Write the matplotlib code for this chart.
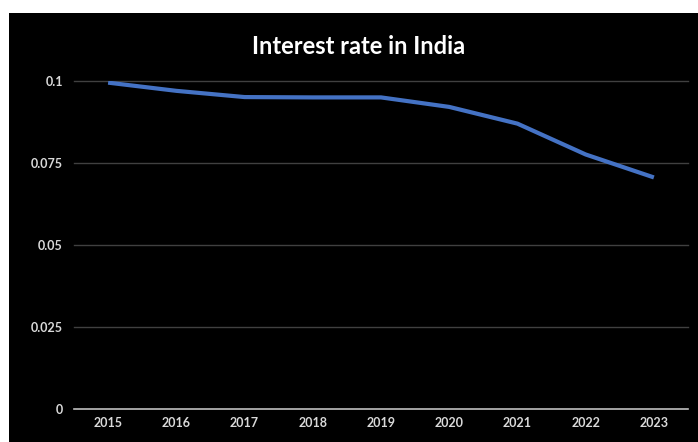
import matplotlib
matplotlib.use("Agg")
import matplotlib.pyplot as plt
from matplotlib.patches import Rectangle

years = ["2015", "2016", "2017", "2018", "2019", "2020", "2021", "2022", "2023"]
rates = [0.0995, 0.0970, 0.0951, 0.0950, 0.0950, 0.0921, 0.0870, 0.0776, 0.0706]
yticks = [0, 0.025, 0.05, 0.075, 0.1]
ytick_labels = ["0", "0.025", "0.05", "0.075", "0.1"]

W, H = 698, 442
fig = plt.figure(figsize=(W / 100, H / 100), dpi=100)
fig.patch.set_facecolor("white")
fig.patches.append(Rectangle((9 / W, 0), (W - 9) / W, (H - 13) / H,
                             transform=fig.transFigure, facecolor="black",
                             edgecolor="none", zorder=-10))

ax = fig.add_axes([74 / W, (H - 409) / H, (688 - 74) / W, (409 - 81) / H])
ax.set_facecolor("black")
x = list(range(len(years)))
ax.plot(x, rates, color="#4472C4", linewidth=3.0, solid_capstyle="butt", zorder=3)
ax.set_xlim(-0.5, len(years) - 0.5)
ax.set_ylim(0, 0.1)
ax.set_yticks(yticks)
ax.set_yticklabels(ytick_labels)
ax.set_xticks(x)
ax.set_xticklabels(years)
for y in yticks[1:]:
    ax.axhline(y, color="#404040", linewidth=1.0, zorder=1, clip_on=False)
ax.axhline(0, color="#bfbfbf", linewidth=1.2, zorder=2, clip_on=False)
for s in ax.spines.values():
    s.set_visible(False)
ax.tick_params(length=0, colors="#d9d9d9", labelsize=9)
ax.tick_params(axis="y", pad=8)
ax.tick_params(axis="x", pad=6)
for lab in ax.get_xticklabels() + ax.get_yticklabels():
    lab.set_fontfamily("Lato")
    lab.set_fontweight("bold")

fig.text(359 / W, 1 - 47 / H, "Interest rate in India", color="white",
         fontsize=17, fontweight="bold", family="Lato", ha="center", va="center")

fig.savefig("out.png", dpi=100, facecolor=fig.get_facecolor())
